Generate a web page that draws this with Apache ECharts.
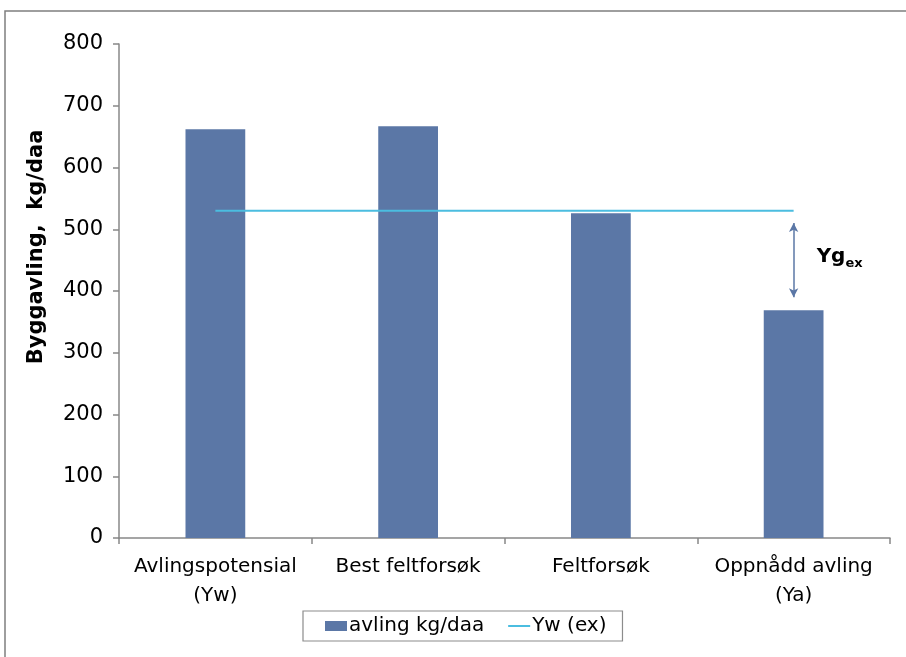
<!DOCTYPE html>
<html>
<head>
<meta charset="utf-8">
<script src="https://cdn.jsdelivr.net/npm/echarts@6/dist/echarts.min.js"></script>
<style>
  html, body { margin: 0; padding: 0; background: #fff; }
  #chart { width: 906px; height: 657px; }
</style>
</head>
<body>
<div id="chart"></div>
<script>
const categories = ['Avlingspotensial\n(Yw)', 'Best feltforsøk', 'Feltforsøk', 'Oppnådd avling\n(Ya)']
const avling = [662, 667, 526, 369]
const ywEx = [530, 530, 530, 530]
const gapFrom = 510
const gapTo = 390
const gapLabelAt = 449

const font = 'DejaVu Sans, sans-serif'
const chart = echarts.init(document.getElementById('chart'))

const border = {
    type: 'rect',
    shape: { x: 5, y: 11, width: 920, height: 680 },
    style: { fill: 'none', stroke: '#7f7f7f', lineWidth: 1.5 },
    z: -1
}

chart.setOption({
    animation: false,
    grid: {
        left: 119,
        right: 16,
        top: 44,
        bottom: 119
    },
    legend: {
        bottom: 16,
        left: 303,
        itemGap: 24,
        itemWidth: 22,
        itemHeight: 10,
        padding: [5, 16, 5, 22],
        borderColor: '#8c8c8c',
        borderWidth: 1.2,
        borderRadius: 0,
        textStyle: { fontFamily: font, fontSize: 20, color: '#000', padding: [0, 0, 0, -3] },
        data: [
            { name: 'avling kg/daa', icon: 'rect' },
            { name: 'Yw (ex)', icon: 'path://M0,0 L22,0 L22,2 L0,2 Z', itemStyle: { color: '#4bbde0' } }
        ]
    },
    xAxis: {
        type: 'category',
        data: categories,
        axisLine: { lineStyle: { color: '#888', width: 1.5 } },
        axisTick: { show: true, length: 6, lineStyle: { color: '#888', width: 1.5 } },
        axisLabel: {
            fontFamily: font, fontSize: 20, color: '#000',
            margin: 14, lineHeight: 29, interval: 0
        }
    },
    yAxis: {
        type: 'value',
        min: 0,
        max: 800,
        interval: 100,
        name: 'Byggavling,  kg/daa',
        nameLocation: 'middle',
        nameGap: 72,
        nameTextStyle: {
            fontFamily: font, fontSize: 21, fontWeight: 'bold', color: '#000',
            padding: [0, 0, 0, 88]
        },
        axisLine: { show: true, lineStyle: { color: '#888', width: 1.5 } },
        axisTick: { show: true, length: 6, lineStyle: { color: '#888', width: 1.5 } },
        axisLabel: { fontFamily: font, fontSize: 21, color: '#000', margin: 16 },
        splitLine: { show: false }
    },
    series: [
        {
            name: 'avling kg/daa',
            type: 'bar',
            data: avling,
            barWidth: '31%',
            itemStyle: { color: '#5b77a6' },
            markLine: {
                silent: true,
                symbol: ['arrow', 'arrow'],
                symbolSize: [7, 9],
                label: { show: false },
                lineStyle: { color: '#5b77a6', width: 1.5, type: 'solid' },
                data: [[
                    { coord: [3, gapFrom] },
                    { coord: [3, gapTo] }
                ]]
            }
        },
        {
            name: 'Yw (ex)',
            type: 'line',
            data: ywEx,
            symbol: 'none',
            lineStyle: { color: '#4bbde0', width: 2 },
            itemStyle: { color: '#4bbde0' },
            z: 3
        }
    ]
})

// "Yg_ex" annotation beside the arrow
const p = chart.convertToPixel({ xAxisIndex: 0, yAxisIndex: 0 }, [3, gapLabelAt])
chart.setOption({
    graphic: [border, {
        type: 'text',
        x: p[0] + 23,
        y: p[1] - 16,
        style: {
            text: '{a|Yg}{b|ex}',
            rich: {
                a: { fontFamily: font, fontSize: 20, fontWeight: 'bold', fill: '#000' },
                b: { fontFamily: font, fontSize: 13, fontWeight: 'bold', fill: '#000', verticalAlign: 'bottom', padding: [12, 0, 0, 0] }
            }
        }
    }]
})
</script>
</body>
</html>
